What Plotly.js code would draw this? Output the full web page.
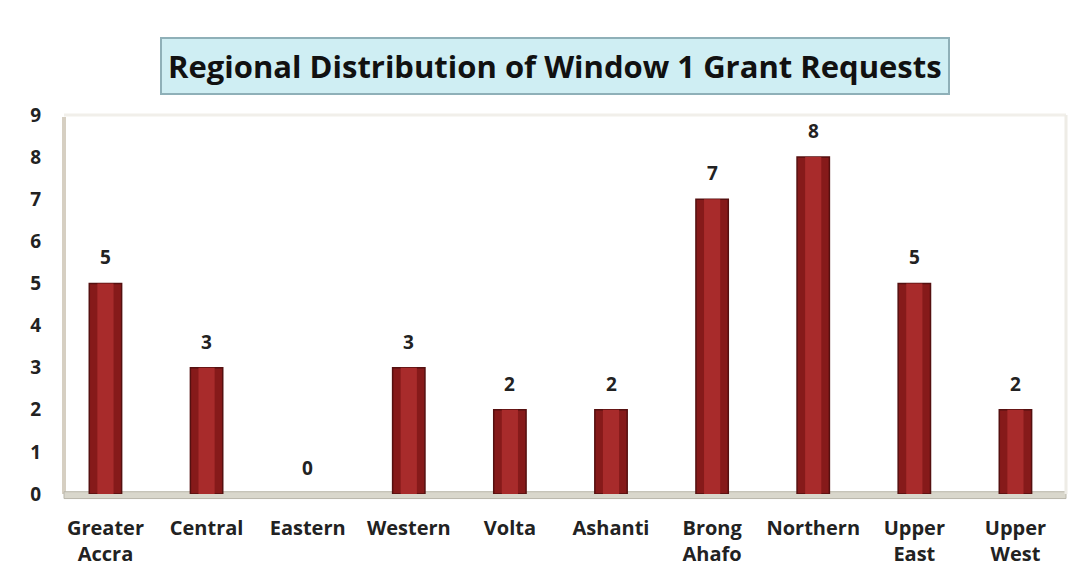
<!DOCTYPE html>
<html>
<head>
<meta charset="utf-8">
<script src="https://cdn.plot.ly/plotly-3.0.1.min.js"></script>
<style>html,body{margin:0;padding:0;background:#fff;}#chart{width:1083px;height:586px;}</style>
</head>
<body>
<div id="chart"></div>
<script>
const regions = ["Greater<br>Accra","Central","Eastern","Western","Volta","Ashanti","Brong<br>Ahafo","Northern","Upper<br>East","Upper<br>West"];
const requests = [5,3,0,3,2,2,7,8,5,2];
const yTicks = [0,1,2,3,4,5,6,7,8,9];
const titleText = "Regional Distribution of Window 1 Grant Requests";

const FONT = "Open Sans, Noto Sans, sans-serif";
const idx = regions.map((_, i) => i);

const trace = {
  type: "bar",
  x: idx,
  y: requests,
  width: 0.32,
  marker: {color: "#861a1a", line: {color: "#551010", width: requests.map(v => v > 0 ? 1.5 : 0)}},
  hoverinfo: "x+y"
};
// lighter centre band to suggest the cylinder shading of the original bars
const shine = {
  type: "bar",
  x: idx,
  y: requests,
  width: 0.16,
  marker: {color: "#a82b2b", line: {width: 0}},
  hoverinfo: "skip"
};

const valueLabels = idx.map(i => ({
  x: i, y: requests[i], xref: "x", yref: "y",
  text: String(requests[i]), showarrow: false,
  yanchor: "bottom", yshift: 11,
  font: {family: FONT, size: 19, color: "#222", weight: "bold"}
}));

const layout = {
  width: 1083, height: 586,
  margin: {l: 64, r: 17, t: 115, b: 92},
  paper_bgcolor: "#ffffff",
  plot_bgcolor: "#ffffff",
  showlegend: false,
  barmode: "overlay",
  xaxis: {
    range: [-0.41, 9.5],
    tickvals: idx, ticktext: regions,
    showgrid: false, zeroline: false, showline: false, ticks: "",
    ticklabelstandoff: 20,
    tickfont: {family: FONT, size: 20, color: "#222", weight: "bold"},
    fixedrange: true
  },
  yaxis: {
    range: [0, 9], tickvals: yTicks, ticktext: yTicks.map(String),
    showgrid: false, zeroline: false, showline: false, ticks: "",
    ticklabelstandoff: 22,
    tickfont: {family: FONT, size: 19, color: "#222", weight: "bold"},
    fixedrange: true
  },
  shapes: [
    {type: "line", xref: "paper", yref: "paper", x0: 0, x1: 0, y0: 0, y1: 0.995,
     line: {color: "#d6cfc2", width: 4}, layer: "below"},
    {type: "rect", xref: "paper", yref: "paper", x0: 0, x1: 1.0, y0: -0.012, y1: 0.006,
     fillcolor: "#d9d7cc", line: {color: "#b9b6aa", width: 1}, layer: "below"},
    {type: "line", xref: "paper", yref: "paper", x0: 0, x1: 1, y0: 1.0, y1: 1.0,
     line: {color: "#f1efea", width: 3}, layer: "below"},
    {type: "line", xref: "paper", yref: "paper", x0: 1, x1: 1, y0: 0, y1: 1.0,
     line: {color: "#eeece6", width: 3}, layer: "below"}
  ],
  annotations: valueLabels.concat([{
    xref: "paper", yref: "paper", x: 0.49, y: 1.129, xanchor: "center", yanchor: "middle",
    text: titleText, showarrow: false,
    font: {family: FONT, size: 31, color: "#111", weight: "bold"},
    bgcolor: "#cfeef3", bordercolor: "#8fb0b8", borderwidth: 2, borderpad: 6
  }])
};

Plotly.newPlot("chart", [trace, shine], layout, {displayModeBar: false, staticPlot: true});
</script>
</body>
</html>
